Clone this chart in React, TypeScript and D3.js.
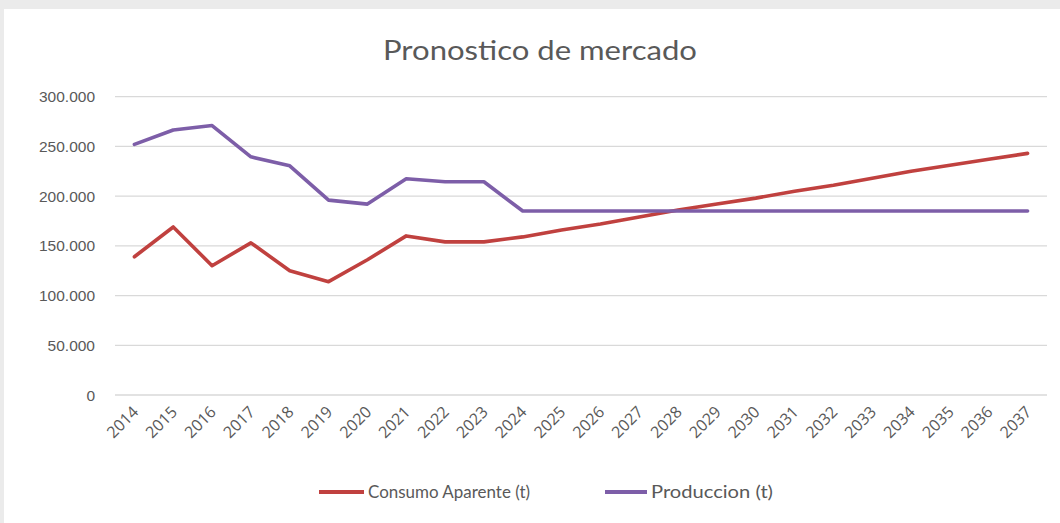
import React from "react";
import * as d3 from "d3";

const years = ["2014","2015","2016","2017","2018","2019","2020","2021","2022","2023","2024","2025","2026","2027","2028","2029","2030","2031","2032","2033","2034","2035","2036","2037"];
const consumo = [139000,169000,130000,153000,125000,114000,136000,160000,154000,154000,159000,166000,172000,179000,186000,192000,198000,205000,211000,218000,225000,231000,237000,243000];
const produccion = [252000,266500,271000,239500,230500,196000,192000,217500,214500,214500,185000,185000,185000,185000,185000,185000,185000,185000,185000,185000,185000,185000,185000,185000];
const yTicks = [0,50000,100000,150000,200000,250000,300000];
const seriesNames = ["Consumo Aparente (t)", "Produccion (t)"];
const seriesColors = ["#c0413f", "#7d5ea8"];
const title = "Pronostico de mercado";

const W = 1060, H = 523;
const M = { left: 115, right: 1047, top: 96.7, bottom: 395 };

export default function App() {
  const x = d3.scaleBand<string>().domain(years).range([M.left, M.right]);
  const y = d3.scaleLinear().domain([0, 300000]).range([M.bottom, M.top]);
  const cx = (d: string) => (x(d) as number) + x.bandwidth() / 2;
  const fmt = (v: number) => v === 0 ? "0" : d3.format(",")(v).replace(/,/g, ".");
  const line = d3.line<number>().x((_, i) => cx(years[i])).y(v => y(v));
  const series = [consumo, produccion];
  const txt = "#595959";

  return (
    <svg width={W} height={H} style={{ position: "absolute", left: 0, top: 0, display: "block" }}>
      <rect x={0} y={0} width={W} height={H} fill="#ebebeb" />
      <rect x={4} y={9} width={W - 4} height={H - 9} fill="#ffffff" />
      <text x={540} y={60} textAnchor="middle" fontFamily="Lato, 'Open Sans', sans-serif" fontSize={27} fill={txt} textLength={314} lengthAdjust="spacingAndGlyphs">{title}</text>
      {yTicks.map(t => (
        <g key={t}>
          <line x1={M.left} x2={M.right} y1={y(t)} y2={y(t)} stroke="#d9d9d9" strokeWidth={1.3} />
          <text x={95} y={y(t)} dy="0.36em" textAnchor="end" fontFamily="'Liberation Sans', Arial, sans-serif" fontSize={15.5} fill={txt}>{fmt(t)}</text>
        </g>
      ))}
      {years.map(yr => (
        <text key={yr} transform={`translate(${cx(yr) + 5},${M.bottom + 18}) rotate(-45)`} textAnchor="end" fontFamily="'Open Sans', Lato, sans-serif" fontSize={16} fill={txt}>{yr}</text>
      ))}
      {series.map((s, i) => (
        <path key={i} d={line(s) || ""} fill="none" stroke={seriesColors[i]} strokeWidth={3.6} strokeLinejoin="round" strokeLinecap="round" />
      ))}
      <g>
        <line x1={319} x2={364} y1={492} y2={492} stroke={seriesColors[0]} strokeWidth={4} />
        <text x={368} y={492} dy="0.35em" fontFamily="Lato, 'Open Sans', sans-serif" fontSize={17} fill={txt} textLength={162} lengthAdjust="spacingAndGlyphs">{seriesNames[0]}</text>
        <line x1={605} x2={647} y1={492} y2={492} stroke={seriesColors[1]} strokeWidth={4} />
        <text x={651} y={492} dy="0.35em" fontFamily="Lato, 'Open Sans', sans-serif" fontSize={17} fill={txt} textLength={122} lengthAdjust="spacingAndGlyphs">{seriesNames[1]}</text>
      </g>
    </svg>
  );
}
